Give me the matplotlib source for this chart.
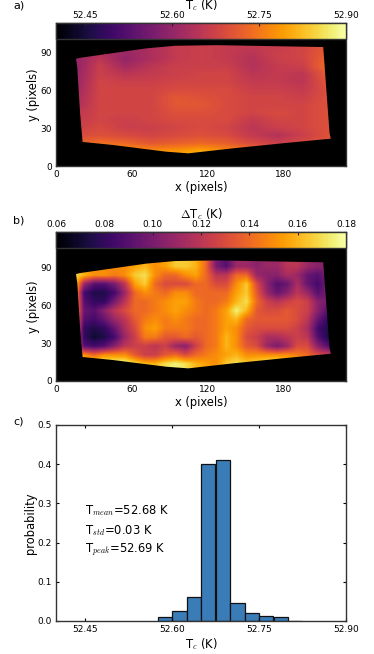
import numpy as np
import matplotlib
matplotlib.use('Agg')
import matplotlib.pyplot as plt
from matplotlib.patches import Polygon

plt.rcParams['mathtext.fontset'] = 'cm'
plt.rcParams['font.size'] = 6.5

W, H = 374.0, 654.0

# sample outline, pixels
outline_x = [15.8, 16.8, 19, 21, 45, 87, 104.5, 140, 179.5, 217, 216, 211, 127, 94, 71.6, 19]
outline_y = [84.7, 77.6, 42, 19, 16.6, 11.3, 10, 14, 18, 21.6, 26, 94, 95.5, 95, 93, 85.5]

# Tc map, in 0.01 K above 52 K
# rows y=96 down to y=6 step 6, cols x=15..215 step 20
tc_map = [
    [59, 61, 61, 63, 66, 67, 66, 66, 66, 68, 71],
    [59, 63, 61, 63, 66, 67, 66, 65, 67, 68, 72],
    [60, 65, 60, 63, 66, 67, 66, 64, 67, 68, 73],
    [59, 67, 62, 65, 67, 67, 67, 64, 66, 67, 74],
    [60, 67, 65, 66, 67, 68, 68, 65, 66, 65, 72],
    [60, 68, 67, 67, 68, 68, 68, 66, 66, 65, 71],
    [61, 68, 68, 68, 69, 69, 69, 67, 67, 66, 70],
    [62, 68, 68, 68, 71, 70, 69, 68, 68, 67, 70],
    [63, 68, 68, 68, 71, 71, 69, 68, 68, 68, 70],
    [65, 68, 68, 68, 70, 70, 69, 68, 69, 68, 70],
    [66, 68, 67, 68, 69, 69, 69, 66, 68, 68, 70],
    [67, 69, 67, 67, 68, 69, 68, 65, 67, 68, 70],
    [69, 70, 69, 68, 69, 70, 69, 66, 64, 67, 70],
    [72, 74, 73, 71, 72, 73, 72, 69, 67, 69, 71],
    [76, 79, 78, 77, 78, 80, 77, 74, 72, 72, 72],
    [78, 81, 80, 80, 82, 82, 80, 76, 74, 74, 74],
]

# dTc map, in 0.01 K
# rows y=98 down to y=7 step 7, cols x=14..214 step 8
dtc_map = [
    [15, 15, 15, 15, 15, 15, 15.5, 16, 15, 15.5, 16.5, 16.5, 16, 14, 10, 9, 11, 11, 10.5, 11, 11, 12, 12, 11, 10.5, 10.5],
    [15, 15, 15, 15, 15, 15, 15.5, 16, 15, 15.5, 16.5, 16.5, 16, 14, 10, 9, 11, 11, 10.5, 11, 11, 12, 12, 11, 10.5, 10.5],
    [17, 16, 15, 15, 14.5, 15, 16.5, 17, 15, 14, 14, 15, 15.5, 14, 12, 12, 14, 14, 11, 10.5, 10.5, 11.5, 11, 9.5, 9, 10],
    [17.5, 11, 9, 9, 10, 12, 15.5, 16.5, 14, 13, 13, 13, 14, 14, 13, 13, 15, 16.5, 13, 10.5, 9, 9.5, 11.5, 9.5, 8.5, 10],
    [17, 8.5, 7.5, 7.5, 8.5, 11, 14, 15, 14.5, 14, 15, 15, 14, 14, 14, 14, 15.5, 16.5, 13.5, 11, 9.5, 10.5, 12, 11, 9, 10],
    [17, 9, 8, 8, 10, 12, 14, 14, 14.5, 15, 15.5, 15.5, 14.5, 14, 14, 14.5, 16, 17, 14, 12.5, 12, 12.5, 13, 12.5, 10.5, 10],
    [16.5, 9.5, 9, 10.5, 12, 13, 14, 14, 14.5, 15, 15.5, 15, 14.5, 14, 14.5, 15.5, 17.5, 16, 13.5, 13, 13, 13.5, 13, 12.5, 10.5, 9],
    [16, 9, 8.5, 9.5, 11, 12, 13.5, 14.5, 15, 14.5, 15, 14.5, 14, 14, 14.5, 15.5, 16, 14, 13.5, 13.5, 13.5, 13.5, 13, 12, 9.5, 8],
    [15.5, 8, 7.5, 8, 9.5, 11.5, 13, 15, 15.5, 14.5, 14.5, 14.5, 14, 14, 14.5, 15.5, 15, 13.5, 13, 13, 13, 13, 12.5, 11.5, 8.5, 7.5],
    [15, 8, 7, 7.5, 8.5, 11, 12.5, 14.5, 14.5, 13.5, 13.5, 14, 13.5, 14, 14.5, 16, 15, 13, 12.5, 11.5, 11.5, 12, 12.5, 12, 9, 7.5],
    [15, 9, 8.5, 9, 10.5, 12, 12.5, 12.5, 12, 12.5, 11, 10.5, 12.5, 14, 14.5, 16, 15, 13.5, 13, 11, 10, 11, 13, 13, 10.5, 9],
    [16, 15, 14, 15, 15, 15, 13.5, 12.5, 12.5, 13.5, 14, 13, 14, 14.5, 15, 15.5, 16, 15, 15, 15, 15, 15, 14.5, 14, 13, 12.5],
    [17, 17, 17.5, 18, 18, 18, 17, 16, 16, 17, 17.5, 17, 16, 15.5, 15, 16.5, 17, 16.5, 17, 17.5, 17.5, 16.5, 16, 15, 15, 15],
    [17, 17, 17.5, 18, 18, 18, 17, 16, 16, 17, 17.5, 17, 16, 15.5, 15, 16.5, 17, 16.5, 17, 17.5, 17.5, 16.5, 16, 15, 15, 15],
]

# histogram
bin_left = [52.575, 52.6, 52.625, 52.65, 52.675, 52.7, 52.725, 52.75, 52.775, 52.8]
bin_prob = [0.011, 0.026, 0.062, 0.401, 0.411, 0.046, 0.02, 0.012, 0.01, 0.001]

map_ticks = [0, 60, 120, 180]
y_ticks = [0, 30, 60, 90]
tc_ticks = [52.45, 52.60, 52.75, 52.90]
dtc_ticks = [0.06, 0.08, 0.10, 0.12, 0.14, 0.16, 0.18]
prob_ticks = [0.0, 0.1, 0.2, 0.3, 0.4, 0.5]


def px_axes(left, top, right, bottom):
    return fig.add_axes([left / W, 1 - bottom / H, (right - left) / W, (bottom - top) / H])


def style_spines(ax):
    for s in ax.spines.values():
        s.set_linewidth(1.0)
        s.set_color('#333333')


def draw_map(top, bottom, cb_bottom, grid, extent, vmin, vmax, ticks, label, ymax):
    ax = px_axes(56, top, 346, bottom)
    ax.set_facecolor('black')
    im = ax.imshow(grid, cmap='inferno', vmin=vmin, vmax=vmax, extent=extent,
                   interpolation='bilinear', aspect='auto', zorder=2)
    im.set_clip_path(Polygon(list(zip(outline_x, outline_y)), transform=ax.transData))
    ax.set_xlim(0, 229)
    ax.set_ylim(0, ymax)
    ax.set_xticks(map_ticks)
    ax.set_yticks(y_ticks)
    ax.tick_params(direction='in', length=2.5, width=0.8, top=False, right=True, pad=3)
    ax.set_xlabel('x (pixels)', fontsize=8.3, labelpad=1)
    ax.set_ylabel('y (pixels)', fontsize=8.3, labelpad=0)
    style_spines(ax)

    cax = px_axes(56, top, 346, cb_bottom)
    cb = fig.colorbar(im, cax=cax, orientation='horizontal')
    cb.set_ticks(ticks)
    cb.set_ticklabels(['%.2f' % t for t in ticks])
    cax.xaxis.set_ticks_position('top')
    cax.xaxis.set_label_position('top')
    cax.tick_params(direction='in', length=2.5, width=0.8, pad=2, color='#222222')
    cax.set_xlabel(label, fontsize=8.3, labelpad=1.5)
    cb.outline.set_linewidth(1.0)
    cb.outline.set_edgecolor('#333333')


fig = plt.figure(figsize=(W / 100, H / 100), dpi=100)

draw_map(23, 166, 38.5, 52 + np.array(tc_map) / 100, [5, 225, 3, 99], 52.40, 52.90,
         tc_ticks, r'T$_c$ (K)', 113)
draw_map(232, 381, 248, np.array(dtc_map) / 100, [10, 218, 3.5, 101.5], 0.06, 0.18,
         dtc_ticks, r'$\Delta$T$_c$ (K)', 118)

ax3 = px_axes(56, 425, 346, 621)
ax3.bar(bin_left, bin_prob, width=0.025, align='edge', color='#3a7cb8', edgecolor='#111111', linewidth=0.9)
ax3.set_xlim(52.40, 52.90)
ax3.set_ylim(0, 0.5)
ax3.set_xticks(tc_ticks)
ax3.set_xticklabels(['%.2f' % t for t in tc_ticks])
ax3.set_yticks(prob_ticks)
ax3.tick_params(direction='in', length=2.5, width=0.8, top=True, right=True, pad=3)
ax3.set_xlabel(r'T$_c$ (K)', fontsize=8.3, labelpad=1)
ax3.set_ylabel('probability', fontsize=8.3, labelpad=0)
style_spines(ax3)

ax3.text(52.45, 0.273, r'T$_{mean}$=52.68 K', fontsize=8.3)
ax3.text(52.45, 0.223, r'T$_{std}$=0.03 K', fontsize=8.3)
ax3.text(52.45, 0.173, r'T$_{peak}$=52.69 K', fontsize=8.3)

fig.text(13 / W, 1 - 5 / H, 'a)', fontsize=8, va='center')
fig.text(13 / W, 1 - 220 / H, 'b)', fontsize=8, va='center')
fig.text(13 / W, 1 - 421 / H, 'c)', fontsize=8, va='center')

fig.savefig('out.png', dpi=100)
